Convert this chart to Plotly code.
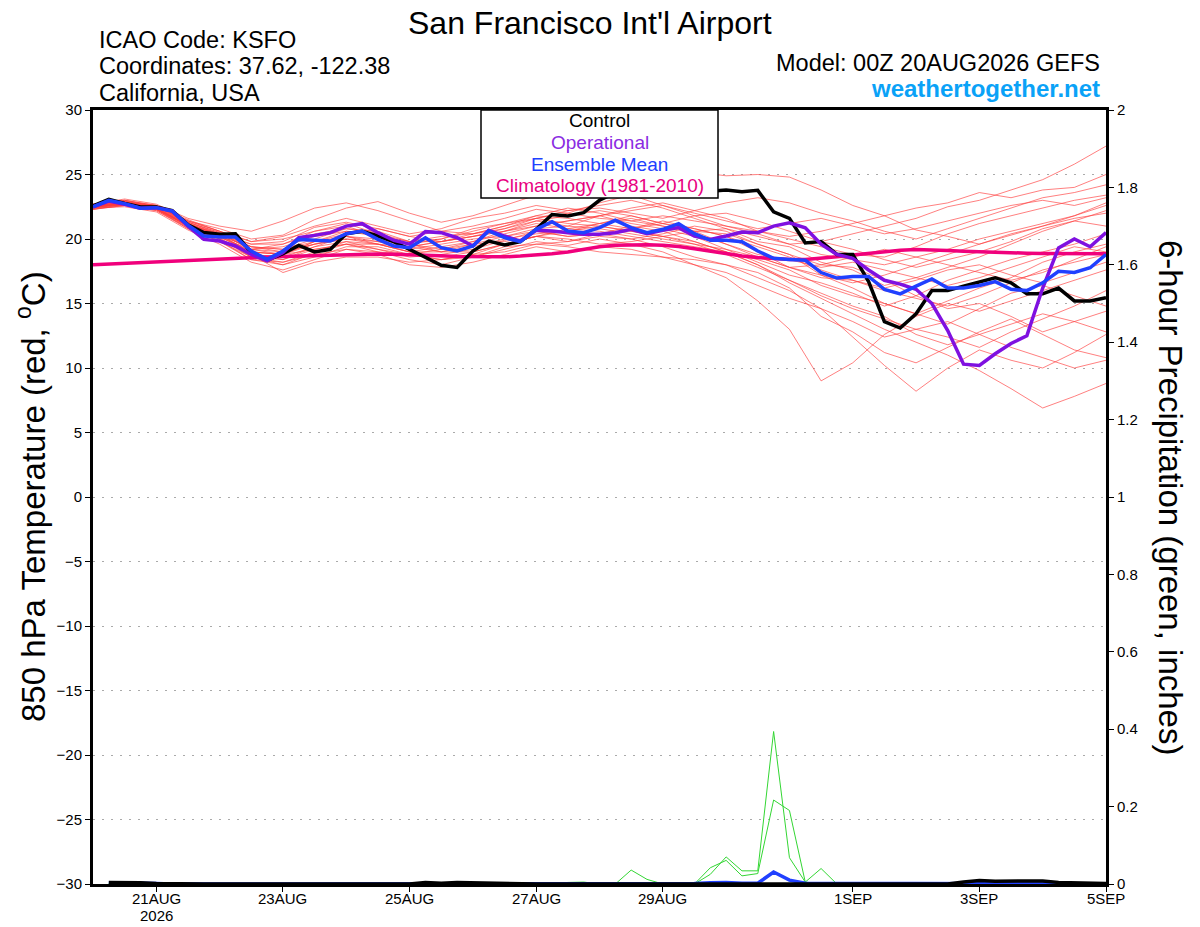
import pandas as pd
import plotly.graph_objects as go

# header text
station = "San Francisco Int'l Airport"
icao = "KSFO"
coords = "37.62, -122.38"
region = "California, USA"
model_run = "00Z 20AUG2026 GEFS"
site = "weathertogether.net"

# time axes: 6-hourly and 12-hourly, 00Z 20AUG -> 00Z 5SEP
times = pd.date_range("2026-08-20 00:00", "2026-09-05 00:00", freq="6h")
times12 = pd.date_range("2026-08-20 00:00", "2026-09-05 00:00", freq="12h")

tick_dates = ["2026-08-21", "2026-08-23", "2026-08-25", "2026-08-27",
              "2026-08-29", "2026-09-01", "2026-09-03", "2026-09-05"]
tick_text = ["21AUG", "23AUG", "25AUG", "27AUG",
             "29AUG", "1SEP", "3SEP", "5SEP"]
year_text = "2026"

# 850 hPa temperature (C), 6-hourly
control = [22.56, 23.07, 22.76, 22.48, 22.48, 22.2, 21.1, 20.5, 20.36, 20.4, 18.94,
           18.35, 18.86, 19.5, 19.0, 19.2, 20.4, 20.6, 20.23, 19.8, 19.2, 18.55,
           17.96, 17.8, 19.07, 19.84, 19.53, 19.79, 20.75, 21.9, 21.78, 22.04,
           23.0, 23.6, 24.2, 24.5, 24.3, 24.0, 23.8, 23.7, 23.8, 23.67, 23.77,
           22.1, 21.6, 19.7, 19.8, 18.8, 18.8, 16.7, 13.6, 13.1, 14.2, 16.0,
           16.0, 16.35, 16.7, 17.0, 16.6, 15.75, 15.75, 16.2, 15.2, 15.2, 15.45]

operational = [22.5, 22.94, 22.69, 22.38, 22.43, 22.17, 21.0, 19.97, 19.84, 19.46, 18.8,
               18.3, 18.94, 20.1, 20.28, 20.49, 21.0, 21.19, 20.49, 19.9, 19.6, 20.57,
               20.49, 20.1, 19.46, 20.67, 20.23, 19.84, 20.67, 20.62, 20.49, 20.36,
               20.36, 20.49, 20.75, 20.41, 20.67, 20.88, 20.23, 19.97, 20.23, 20.54,
               20.49, 21.0, 21.26, 20.87, 19.6, 18.8, 18.5, 17.6, 16.8, 16.5, 16.1,
               15.0, 12.9, 10.3, 10.2, 11.1, 11.9, 12.5, 16.2, 19.3, 20.0, 19.4, 20.5]

ens_mean = [22.48, 23.0, 22.74, 22.38, 22.43, 22.17, 21.08, 20.23, 20.15, 20.15, 19.07,
            18.42, 19.07, 19.97, 19.9, 19.84, 20.41, 20.62, 19.97, 19.46, 19.33, 20.1,
            19.33, 19.07, 19.46, 20.62, 20.1, 19.79, 20.75, 21.34, 20.62, 20.49,
            20.88, 21.45, 20.88, 20.49, 20.75, 21.19, 20.41, 19.9, 19.9, 19.79,
            19.07, 18.5, 18.42, 18.35, 17.4, 16.97, 17.1, 17.1, 16.1, 15.75, 16.35,
            16.9, 16.2, 16.2, 16.4, 16.7, 16.1, 16.0, 16.6, 17.5, 17.4, 17.77, 18.8]

climatology = [18.0, 18.06, 18.12, 18.18, 18.24, 18.3, 18.36, 18.42, 18.48, 18.52, 18.56,
               18.6, 18.64, 18.68, 18.72, 18.76, 18.8, 18.82, 18.83, 18.82, 18.8, 18.76,
               18.7, 18.65, 18.62, 18.6, 18.62, 18.68, 18.76, 18.86, 19.0, 19.2,
               19.4, 19.52, 19.56, 19.56, 19.52, 19.42, 19.25, 19.05, 18.85, 18.68,
               18.56, 18.47, 18.42, 18.42, 18.5, 18.62, 18.76, 18.9, 19.02, 19.12,
               19.18, 19.16, 19.1, 19.05, 19.0, 18.96, 18.93, 18.9, 18.88, 18.86,
               18.85, 18.85, 18.85]

# ensemble members, 12-hourly
members = [
    [22.7, 23.0, 22.6, 21.3, 20.5, 19.6, 19.8, 20.9, 21.3, 20.8, 20.2,
     20.6, 21.0, 21.6, 22.3, 22.0, 22.8, 23.4, 22.6, 21.8, 21.0, 20.4,
     19.6, 19.8, 20.4, 21.0, 21.6, 22.5, 23.0, 23.8, 24.6, 25.8, 27.2],
    [22.4, 22.9, 22.5, 21.4, 20.8, 20.0, 20.3, 21.5, 22.4, 22.9, 22.0,
     21.3, 21.8, 22.6, 23.4, 23.8, 24.2, 24.6, 25.0, 25.2, 24.9, 25.0,
     24.8, 23.8, 22.6, 21.8, 20.7, 20.2, 19.6, 20.3, 21.0, 21.6, 22.0],
    [22.3, 22.6, 22.2, 20.8, 19.9, 18.4, 18.0, 18.9, 19.6, 19.0, 18.4,
     18.0, 18.6, 19.2, 19.8, 19.5, 20.0, 19.6, 19.0, 18.0, 17.0, 15.2,
     13.0, 9.0, 10.4, 12.6, 14.0, 15.0, 14.4, 15.2, 16.0, 16.8, 17.6],
    [22.6, 22.8, 22.3, 21.0, 20.0, 18.8, 18.6, 19.4, 19.8, 19.2, 18.6,
     18.8, 19.2, 19.9, 20.6, 20.2, 20.4, 20.0, 19.4, 18.6, 18.0, 17.0,
     16.0, 14.6, 12.4, 10.2, 8.2, 10.0, 11.4, 10.6, 10.0, 11.2, 12.6],
    [22.5, 22.7, 22.3, 21.2, 20.3, 19.0, 18.8, 19.6, 20.0, 19.6, 19.0,
     18.6, 19.0, 19.6, 20.2, 20.6, 21.0, 20.6, 20.2, 19.8, 19.0, 18.0,
     16.6, 15.4, 14.2, 13.0, 12.0, 11.0, 9.8, 8.4, 6.9, 7.8, 8.8],
    [22.6, 22.9, 22.5, 21.5, 20.6, 19.4, 19.2, 20.0, 20.8, 20.6, 19.8,
     19.8, 20.2, 20.6, 21.4, 21.0, 21.8, 22.4, 22.8, 22.2, 21.6, 20.6,
     20.0, 19.4, 18.8, 18.6, 19.4, 20.4, 21.2, 21.8, 22.4, 23.0, 23.4],
    [22.4, 22.5, 22.1, 20.7, 19.6, 18.2, 17.6, 18.4, 19.2, 18.8, 18.0,
     17.8, 18.2, 18.8, 19.4, 19.0, 19.4, 19.2, 18.6, 18.0, 17.4, 16.4,
     15.4, 14.6, 13.6, 12.4, 13.0, 13.6, 12.6, 11.6, 10.8, 10.0, 10.6],
    [22.5, 22.8, 22.4, 21.0, 20.1, 19.2, 19.6, 20.6, 21.2, 20.4, 19.6,
     19.2, 19.8, 20.4, 21.0, 21.4, 21.8, 21.2, 20.8, 20.2, 19.2, 18.2,
     17.2, 16.6, 15.8, 14.8, 15.6, 16.8, 17.6, 18.4, 19.0, 19.6, 20.4],
    [22.7, 23.1, 22.7, 21.6, 21.0, 20.6, 21.4, 22.4, 22.8, 22.2, 21.4,
     20.6, 20.4, 21.0, 21.6, 22.2, 22.6, 23.0, 22.4, 21.6, 20.8, 19.8,
     19.4, 18.2, 17.6, 16.4, 17.0, 17.8, 18.6, 19.6, 20.6, 21.4, 22.2],
    [22.3, 22.6, 22.3, 20.9, 19.8, 18.6, 18.2, 19.0, 19.8, 19.6, 19.0,
     19.4, 19.8, 20.6, 21.2, 20.8, 21.2, 21.6, 21.0, 20.6, 20.4, 19.6,
     18.8, 17.2, 16.2, 15.0, 14.2, 13.4, 14.6, 15.8, 16.4, 15.6, 14.8],
    [22.6, 22.7, 22.3, 21.1, 20.4, 19.4, 19.0, 19.6, 20.2, 19.8, 19.2,
     19.6, 20.0, 20.2, 20.6, 20.2, 20.4, 20.8, 21.4, 20.8, 20.2, 19.0,
     17.8, 17.0, 16.8, 16.2, 16.8, 17.6, 18.0, 17.2, 16.6, 17.4, 18.2],
    [22.4, 22.8, 22.6, 21.2, 20.2, 18.9, 18.4, 19.2, 19.6, 19.2, 18.8,
     18.4, 18.6, 19.4, 19.6, 19.8, 20.2, 20.0, 20.4, 21.0, 20.6, 19.6,
     18.8, 18.0, 17.8, 16.8, 15.6, 14.6, 15.0, 14.0, 12.8, 13.6, 14.4],
    [22.5, 22.9, 22.6, 21.4, 20.6, 19.8, 20.2, 21.0, 21.6, 21.0, 20.4,
     20.8, 21.6, 22.0, 22.6, 22.2, 22.4, 22.0, 21.6, 22.2, 22.8, 23.2,
     22.8, 22.0, 21.4, 20.6, 20.0, 20.8, 21.6, 22.4, 23.2, 23.6, 24.2],
    [22.6, 22.6, 22.2, 20.9, 20.0, 18.6, 18.4, 19.4, 20.2, 20.0, 19.4,
     19.0, 19.0, 19.6, 20.2, 20.8, 20.6, 20.2, 19.8, 19.4, 19.0, 18.4,
     17.6, 16.4, 15.6, 15.0, 14.2, 15.2, 16.2, 17.0, 18.2, 19.0, 19.6],
    [22.4, 22.7, 22.3, 21.0, 20.0, 18.8, 17.4, 18.2, 18.6, 18.6, 18.2,
     18.4, 18.8, 19.0, 19.6, 19.4, 19.0, 18.8, 18.6, 18.4, 18.0, 17.4,
     16.2, 14.0, 12.8, 11.2, 10.4, 11.6, 12.8, 13.8, 12.6, 11.4, 10.8],
    [22.5, 22.8, 22.4, 21.2, 20.4, 19.2, 19.4, 20.2, 20.6, 20.2, 19.8,
     20.2, 20.4, 20.8, 21.6, 22.0, 21.6, 21.4, 21.8, 21.4, 21.0, 20.6,
     20.2, 20.6, 21.2, 21.8, 22.4, 22.8, 23.6, 23.2, 23.8, 24.0, 25.0],
    [22.6, 22.8, 22.4, 21.0, 20.2, 19.0, 18.8, 19.8, 20.6, 20.4, 19.6,
     19.0, 19.4, 20.0, 20.4, 20.6, 21.2, 21.8, 21.2, 20.6, 19.6, 18.8,
     18.4, 17.8, 18.2, 17.6, 17.0, 16.4, 17.0, 17.8, 18.6, 19.4, 19.0],
    [22.3, 22.7, 22.4, 21.1, 20.1, 18.6, 18.0, 18.6, 19.4, 19.4, 18.8,
     18.4, 18.8, 19.6, 20.2, 19.8, 20.4, 21.0, 20.6, 19.8, 19.0, 18.0,
     16.8, 15.6, 14.6, 13.8, 13.0, 12.4, 11.6, 12.8, 13.8, 14.8, 16.0],
    [22.5, 22.6, 22.3, 21.1, 20.3, 19.6, 19.6, 20.4, 20.8, 20.4, 19.8,
     20.0, 20.6, 21.2, 21.6, 21.2, 21.0, 20.6, 20.2, 20.6, 20.8, 20.2,
     19.6, 18.8, 18.4, 18.0, 18.6, 19.2, 20.0, 20.6, 21.2, 21.8, 22.6],
    [22.6, 23.0, 22.5, 21.3, 20.5, 19.2, 19.0, 19.6, 20.0, 19.8, 19.4,
     19.8, 20.4, 21.0, 21.8, 22.4, 22.0, 21.4, 21.0, 20.4, 19.6, 18.6,
     17.8, 18.0, 18.6, 19.2, 18.6, 18.0, 17.4, 16.8, 17.4, 18.4, 19.4],
    [22.5, 22.8, 22.5, 21.2, 20.3, 19.0, 18.8, 19.8, 20.2, 19.6, 19.0,
     19.0, 19.6, 20.2, 20.8, 21.0, 20.8, 20.4, 20.0, 19.6, 19.2, 18.6,
     17.8, 17.2, 16.6, 17.2, 18.0, 18.8, 19.6, 20.4, 21.0, 21.8, 22.8],
    [22.4, 22.7, 22.4, 21.1, 20.2, 19.4, 19.2, 19.8, 20.4, 20.8, 20.2,
     19.8, 20.2, 20.8, 21.4, 21.8, 22.2, 21.8, 21.2, 20.8, 20.2, 19.4,
     18.6, 17.6, 16.8, 16.0, 15.4, 14.8, 15.6, 16.6, 17.6, 18.2, 18.8],
    [22.6, 22.9, 22.4, 21.3, 20.4, 19.2, 18.8, 19.2, 19.6, 19.6, 19.4,
     19.8, 20.2, 20.6, 21.0, 21.4, 21.8, 22.2, 22.6, 22.0, 21.4, 20.8,
     21.2, 21.6, 21.0, 20.4, 20.8, 21.4, 22.0, 22.6, 23.0, 22.6, 23.2],
    [22.5, 22.7, 22.3, 20.8, 19.8, 18.4, 18.2, 18.8, 19.2, 19.0, 18.8,
     19.2, 19.6, 19.8, 20.2, 20.0, 19.6, 19.8, 20.2, 19.6, 18.8, 17.8,
     16.8, 15.8, 14.8, 14.0, 12.6, 11.8, 12.6, 13.4, 14.2, 13.6, 12.8],
    [22.7, 23.0, 22.6, 21.4, 20.6, 19.8, 20.0, 20.6, 21.0, 20.2, 19.6,
     20.0, 20.8, 21.2, 21.8, 21.6, 21.2, 20.8, 21.2, 21.8, 22.0, 21.4,
     20.6, 19.8, 19.2, 18.4, 17.8, 18.4, 19.0, 19.8, 20.8, 21.4, 21.0],
]

# 6-hour precipitation (inches), 06Z 20AUG -> 00Z 5SEP
pcp_control = [0.004, 0.004, 0.003, 0.001, 0, 0, 0, 0,
               0, 0, 0, 0, 0, 0, 0, 0,
               0, 0, 0, 0, 0.004, 0.002, 0.004, 0.003,
               0.001, 0, 0, 0, 0, 0, 0, 0,
               0, 0, 0, 0, 0, 0, 0, 0,
               0, 0, 0, 0, 0, 0, 0, 0,
               0, 0, 0, 0, 0, 0, 0.005, 0.009,
               0.007, 0.007, 0.008, 0.008, 0.004, 0.003, 0.003, 0.001]

pcp_mean = [0.003, 0.003, 0.002, 0.001, 0, 0, 0, 0,
            0, 0, 0, 0, 0, 0, 0, 0,
            0, 0, 0, 0, 0, 0, 0, 0,
            0, 0, 0, 0, 0, 0, 0, 0,
            0, 0, 0, 0, 0, 0.001, 0.003, 0.004,
            0.002, 0.002, 0.031, 0.01, 0.002, 0.002, 0, 0,
            0, 0, 0, 0, 0, 0, 0, 0,
            0, 0, 0, 0, 0, 0, 0, 0]

pcp_members = [
    [0, 0, 0, 0, 0, 0, 0, 0,
     0, 0, 0, 0, 0, 0, 0, 0,
     0, 0, 0, 0, 0, 0, 0, 0,
     0, 0, 0, 0, 0, 0, 0, 0,
     0, 0, 0, 0, 0, 0, 0.025, 0.07,
     0.034, 0.034, 0.394, 0.068, 0.005, 0.04, 0, 0,
     0, 0, 0, 0, 0, 0, 0, 0,
     0, 0, 0, 0, 0, 0, 0, 0],
    [0, 0, 0, 0, 0, 0, 0, 0,
     0, 0, 0, 0, 0, 0, 0, 0,
     0, 0, 0, 0, 0, 0, 0, 0,
     0, 0, 0, 0, 0, 0, 0, 0,
     0, 0, 0, 0, 0, 0, 0.042, 0.061,
     0.021, 0.027, 0.217, 0.19, 0.005, 0, 0, 0,
     0, 0, 0, 0, 0, 0, 0, 0,
     0, 0, 0, 0, 0, 0, 0, 0],
    [0, 0, 0, 0, 0, 0, 0, 0,
     0, 0, 0, 0, 0, 0, 0, 0,
     0, 0, 0, 0, 0, 0, 0, 0,
     0, 0, 0, 0, 0, 0, 0, 0,
     0, 0.036, 0.012, 0, 0, 0, 0, 0,
     0, 0, 0, 0, 0, 0, 0, 0,
     0, 0, 0, 0, 0, 0, 0, 0,
     0, 0, 0, 0, 0, 0, 0, 0],
    [0.002, 0.002, 0, 0, 0, 0, 0, 0,
     0, 0, 0, 0, 0, 0, 0, 0,
     0, 0, 0, 0, 0, 0, 0, 0,
     0, 0, 0, 0, 0, 0.004, 0.005, 0,
     0, 0, 0, 0, 0, 0, 0, 0,
     0, 0, 0, 0, 0, 0, 0, 0,
     0, 0, 0, 0, 0, 0, 0, 0,
     0, 0, 0, 0, 0, 0, 0, 0],
]

FONT = "Liberation Sans, Arial, sans-serif"
RED = "rgba(255,60,60,0.65)"
GREEN = "#33d633"
PURPLE = "#7f10e0"
BLUE = "#2040ff"
PINK = "#f0007c"

fig = go.Figure()

for m in members:
    fig.add_trace(go.Scatter(x=times12, y=m, mode="lines",
                             line=dict(color=RED, width=1), hoverinfo="skip"))

fig.add_trace(go.Scatter(x=times, y=climatology, mode="lines",
                         line=dict(color=PINK, width=3.5)))
fig.add_trace(go.Scatter(x=times, y=control, mode="lines",
                         line=dict(color="black", width=3.5)))
fig.add_trace(go.Scatter(x=times, y=operational, mode="lines",
                         line=dict(color=PURPLE, width=3.5)))
fig.add_trace(go.Scatter(x=times, y=ens_mean, mode="lines",
                         line=dict(color=BLUE, width=3.5)))

# precipitation on right axis
for p in pcp_members:
    fig.add_trace(go.Scatter(x=times[1:], y=p, mode="lines", yaxis="y2",
                             line=dict(color=GREEN, width=1), hoverinfo="skip"))
fig.add_trace(go.Scatter(x=times[1:], y=pcp_mean, mode="lines", yaxis="y2",
                         line=dict(color=BLUE, width=3.5)))
fig.add_trace(go.Scatter(x=times[1:], y=pcp_control, mode="lines", yaxis="y2",
                         line=dict(color="black", width=3.5)))


# page pixel -> paper helpers (plot area is x 93..1106, y 110..884 on the page)
def px(x):
    return (x - 93) / 1013


def py(y):
    return (884 - y) / 774


annotations = [
    dict(text=station, x=px(590), y=py(23), font=dict(size=32)),
    dict(text=f"ICAO Code: {icao}", x=px(97), y=py(40), xanchor="left", font=dict(size=23.5)),
    dict(text=f"Coordinates: {coords}", x=px(97), y=py(66), xanchor="left", font=dict(size=23.5)),
    dict(text=region, x=px(97), y=py(93), xanchor="left", font=dict(size=23.5)),
    dict(text=f"Model: {model_run}", x=px(1102), y=py(63), xanchor="right", font=dict(size=23.5)),
    dict(text=f"<b>{site}</b>", x=px(1102), y=py(89), xanchor="right",
         font=dict(size=24, color="#0aa2f7")),
    dict(text="850 hPa Temperature (red, <sup>o</sup>C)", x=px(31), y=0.5,
         textangle=-90, font=dict(size=33)),
    dict(text="6-hour Precipitation (green, inches)", x=px(1171), y=0.5,
         textangle=90, font=dict(size=33)),
    # legend lines inside the white box
    dict(text="Control", x=px(599.5), y=py(121), font=dict(size=19, color="black")),
    dict(text="Operational", x=px(599.5), y=py(142.5), font=dict(size=19, color="#8a2be2")),
    dict(text="Ensemble Mean", x=px(599.5), y=py(164), font=dict(size=19, color=BLUE)),
    dict(text="Climatology (1981-2010)", x=px(599.5), y=py(185.5),
         font=dict(size=19, color="#e8007f")),
]
# date labels under the x ticks
for d, t in zip(tick_dates, tick_text):
    annotations.append(dict(text=t, x=d, xref="x", y=py(898), font=dict(size=15)))
annotations.append(dict(text=year_text, x=tick_dates[0], xref="x", y=py(915),
                        font=dict(size=15)))

for a in annotations:
    a.setdefault("xref", "paper")
    a.setdefault("yref", "paper")
    a.setdefault("xanchor", "center")
    a.setdefault("yanchor", "middle")
    a["showarrow"] = False

legend_box = dict(type="rect", xref="paper", yref="paper",
                  x0=px(481), x1=px(718), y0=py(198), y1=py(110),
                  fillcolor="white", line=dict(color="black", width=1.5),
                  layer="above")

# the page body has an 8px margin, so the figure is 16px smaller than the window
fig.update_layout(
    width=1192,
    height=919,
    margin=dict(l=85, r=94, t=102, b=43),
    paper_bgcolor="white",
    plot_bgcolor="white",
    showlegend=False,
    font=dict(family=FONT, color="black", size=15),
    annotations=annotations,
    shapes=[legend_box],
    xaxis=dict(
        type="date",
        range=[times[0], times[-1]],
        tickvals=tick_dates,
        showticklabels=False,
        ticks="outside", ticklen=5, tickwidth=1, tickcolor="black",
        showline=True, linewidth=3, linecolor="black", mirror=True,
        showgrid=False, zeroline=False, automargin=False,
    ),
    yaxis=dict(
        range=[-30, 30], tick0=-30, dtick=5,
        ticks="outside", ticklen=5, tickwidth=1, tickcolor="black",
        showline=True, linewidth=3, linecolor="black",
        showgrid=True, gridcolor="#aaaaaa", griddash="2px,7px", gridwidth=1,
        zeroline=False, automargin=False, tickfont=dict(size=15),
    ),
    yaxis2=dict(
        overlaying="y", side="right",
        range=[0, 2], tick0=0, dtick=0.2,
        ticks="outside", ticklen=5, tickwidth=1, tickcolor="black",
        showline=True, linewidth=3, linecolor="black",
        showgrid=False, zeroline=False, automargin=False, tickfont=dict(size=15),
    ),
)

fig.write_html("out.html")
